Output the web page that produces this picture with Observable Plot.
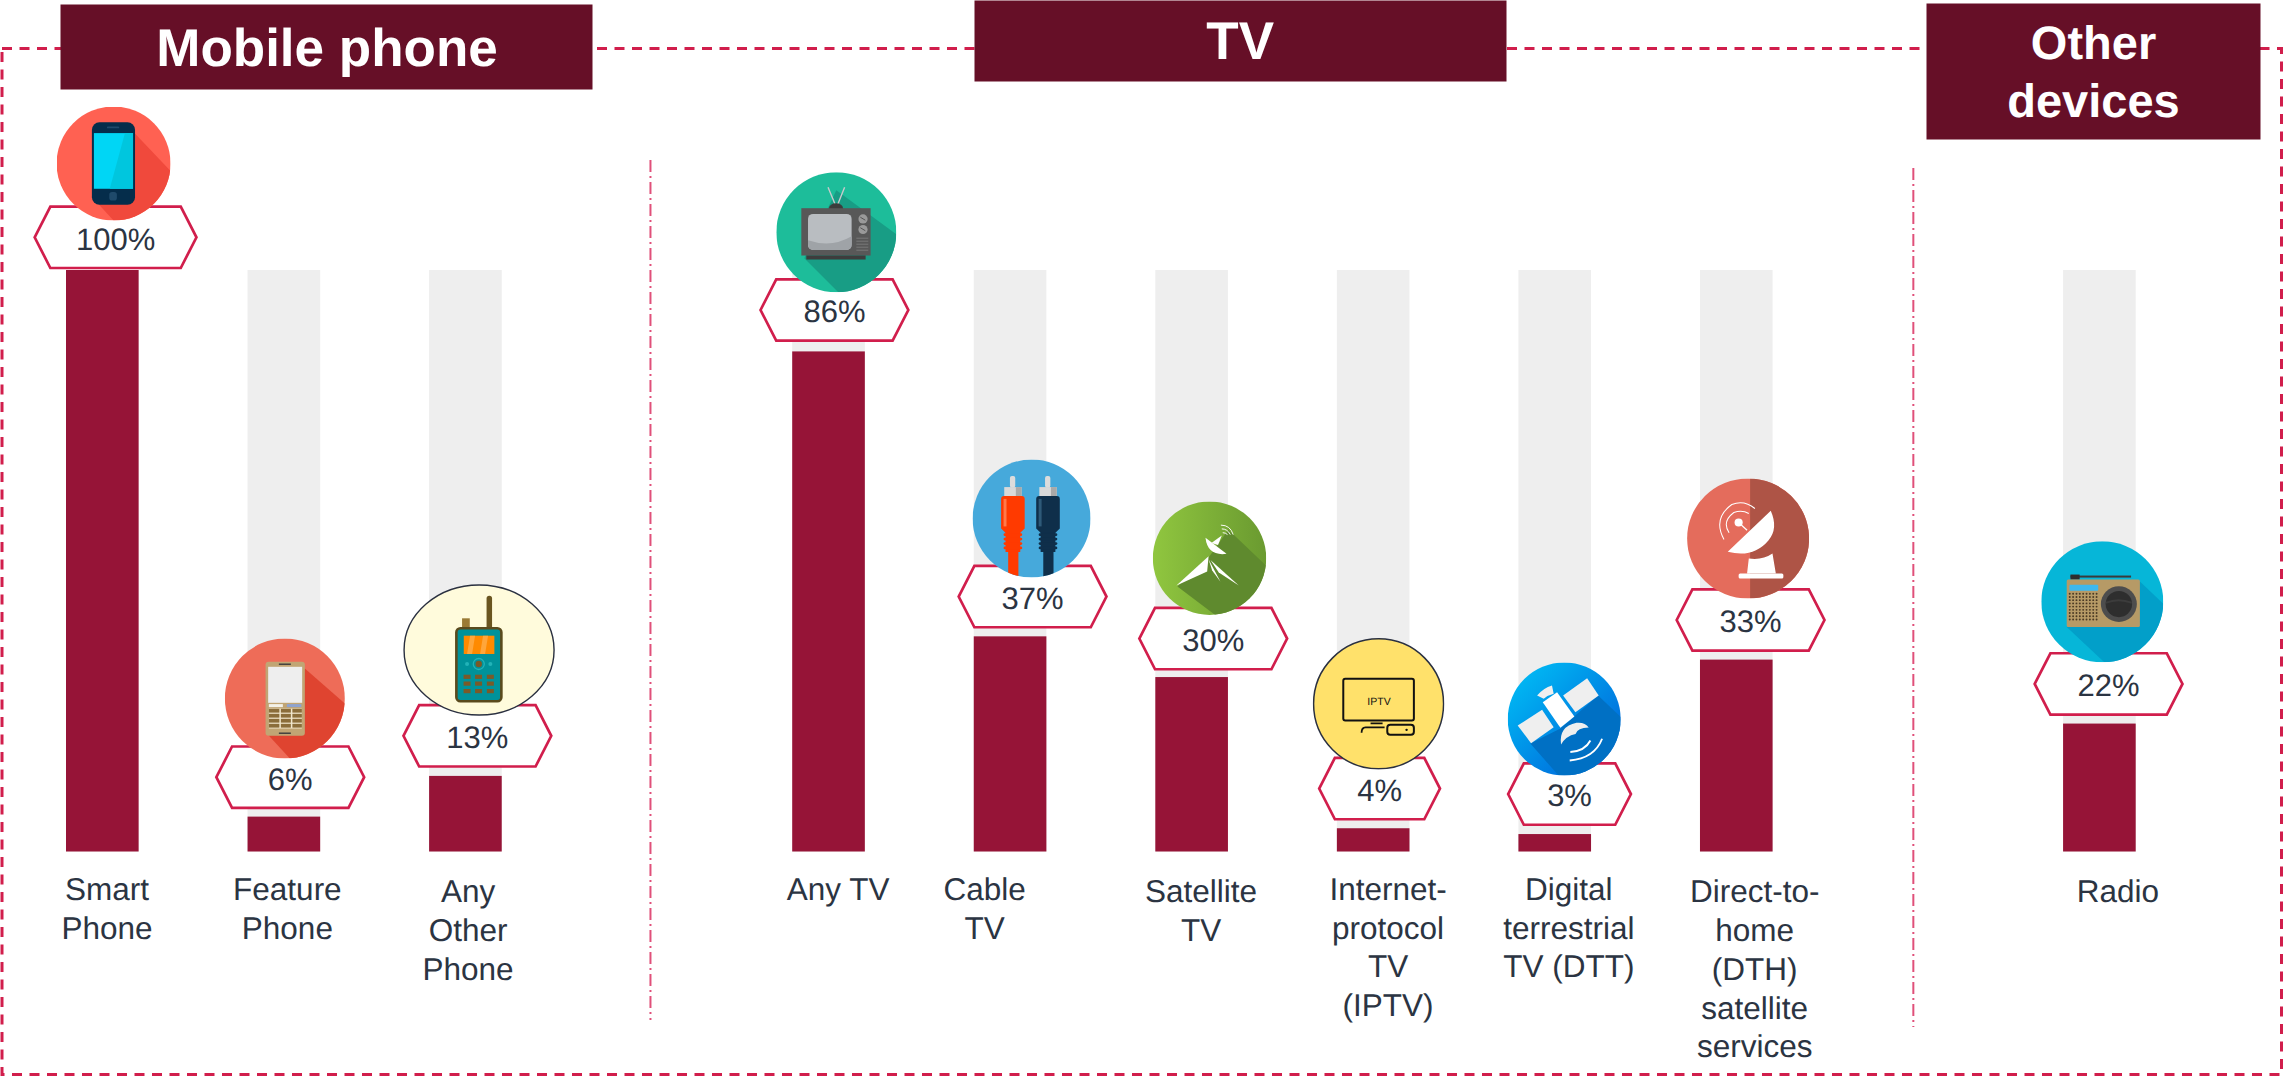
<!DOCTYPE html>
<html>
<head>
<meta charset="utf-8">
<script src="https://cdn.jsdelivr.net/npm/d3@7"></script>
<script src="https://cdn.jsdelivr.net/npm/@observablehq/plot@0.6"></script>
<style>
html,body{margin:0;padding:0;background:#fff}
svg{display:block}
</style>
</head>
<body>
<div id="chart"></div>
<script>
// ---- data ----
const categories = ["Smart Phone","Feature Phone","Any Other Phone","Any TV","Cable TV","Satellite TV",
  "Internet-protocol TV (IPTV)","Digital terrestrial TV (DTT)","Direct-to-home (DTH) satellite services","Radio"];
const values = [100,6,13,86,37,30,4,3,33,22];
const tickLabels = ["Smart\nPhone","Feature\nPhone","Any\nOther\nPhone","Any TV","Cable\nTV","Satellite\nTV",
  "Internet-\nprotocol\nTV\n(IPTV)","Digital\nterrestrial\nTV (DTT)","Direct-to-\nhome\n(DTH)\nsatellite\nservices","Radio"];
const slots = ["Smart Phone","Feature Phone","Any Other Phone","gap1","Any TV","Cable TV","Satellite TV",
  "Internet-protocol TV (IPTV)","Digital terrestrial TV (DTT)","Direct-to-home (DTH) satellite services","gap2","Radio"];

// ---- layout nudges, kept apart from the data ----
const iconNudge = [[10.75,-107],[0.5,-118.6],[13.15,-126.4],[7.3,-119.7],[21,-118.3],[17.4,-119.35],[4.9,-124.9],[9,-115.55],[11.3,-121.6],[2.4,-122.3]];
const iconSize  = [[114,114],[120,120],[152,132],[120,120],[118,118],[113.4,113.4],[132,132],[113,113],[122,120],[122,121]];
const hexNudge  = [[12.75,-33.2],[5.9,-39.9],[11.45,-40.6],[5.4,-41.9],[22,-40.3],[21.1,-39],[5.9,-40.2],[14.3,-40.5],[13.8,-40.1],[8.7,-40.1]];
const hexWidth  = [163,149,149,149,149,149,122,124,149,149];
const labelNudge= [[4.25,20.2],[3,20.2],[2.15,22.6],[9.1,20.2],[-26,20.2],[8.9,22.9],[14.4,20.2],[13.6,20.2],[17.9,22.6],[17.9,22.6]];

// ---- palette ----
const crimson="#d11e4c", barFill="#961437", headFill="#660f27", ink="#2b3442", font="Liberation Sans";

// ---- pictograms ----
function uri(vw,vh,body){
  return "data:image/svg+xml;charset=utf-8,"+encodeURIComponent(
    `<svg xmlns="http://www.w3.org/2000/svg" viewBox="0 0 ${vw} ${vh}" preserveAspectRatio="none">${body}</svg>`);
}
function disc(base,shadow,shadowPath,inner,defs=""){
  return uri(120,120,`<defs><clipPath id="c"><circle cx="60" cy="60" r="60"/></clipPath>${defs}</defs>
  <circle cx="60" cy="60" r="60" fill="${base}"/><g clip-path="url(#c)"><path d="${shadowPath}" fill="${shadow}"/></g>${inner}`);
}
function grid(xs,ys,f){let s="";for(const y of ys)for(const x of xs)s+=f(x,y);return s;}
function plug(ox,col,hi){
  return `<g transform="translate(${ox},0)">
   <rect x="36.2" y="90" width="10.4" height="32" fill="${col}"/>
   <rect x="38" y="16.7" width="5.4" height="12" rx="2" fill="#dcdcdc"/>
   <rect x="32.2" y="28" width="17.6" height="10" fill="#d9d9d9"/><rect x="44" y="28" width="5.8" height="10" fill="#a9a9a9"/>
   <path d="M29 40 q0 -3 3 -3 h18 q3 0 3 3 v30 l-5 5 h-14 l-5 -5z" fill="${col}"/>
   <rect x="31.5" y="40" width="3" height="28" fill="${hi}"/>
   <rect x="33.5" y="74" width="15" height="20" fill="${col}"/>
   ${grid([31.5],[75,79.5,84,88.5],(x,y)=>`<rect x="${x}" y="${y}" width="19" height="2.8" rx="1.4" fill="${col}"/>`)}
  </g>`;
}
const icons = [
  disc("#ff6152","#f0493c","M82 28 L120 68 V120 H60 L37 95 Z",
    `<rect x="37.2" y="16.5" width="45.4" height="87" rx="8" fill="#052d4b"/>
     <rect x="39.3" y="28" width="41.2" height="58.6" fill="#00d6f5"/>
     <path d="M80.5 28 V86.6 H56 L72 28Z" fill="#00c6de"/>
     <rect x="53" y="21" width="13" height="2" rx="1" fill="#1f4a6b"/>
     <rect x="55.5" y="90" width="8" height="9" rx="3" fill="#1f4a6b"/>`),
  disc("#ee6c58","#df4430","M80 30 L120 65 V120 H65 L42 95 Z",
    `<rect x="40.7" y="23.3" width="39.3" height="74" rx="3" fill="#c1a574"/>
     <rect x="43.3" y="28.3" width="34" height="36" fill="#eeeeee"/>
     <rect x="54" y="25" width="12" height="1.4" fill="#3a3a3a"/><rect x="54" y="94" width="12" height="1.4" fill="#3a3a3a"/>
     <rect x="44" y="65.6" width="14" height="3" fill="#f3f1e8"/><rect x="62" y="65.6" width="14.5" height="3" fill="#8ea3cf"/>
     <rect x="44" y="70" width="33" height="20" fill="#f0e6cc"/>
     ${grid([44,56,67.5],[70.3,75.3,80.3,85.3],(x,y)=>`<rect x="${x}" y="${y}" width="${x>60?9.5:x>50?10:10.5}" height="3.8" fill="#8b6d3a"/>`)}`),
  uri(152,132,`<ellipse cx="76" cy="66" rx="75" ry="65" fill="#fffbdc" stroke="#2a3040" stroke-width="1.4"/>
     <rect x="83.5" y="11.7" width="5.5" height="34" rx="2.7" fill="#6a5520"/>
     <rect x="59" y="34.3" width="7.7" height="10" fill="#9a7a35"/>
     <rect x="53.3" y="44.3" width="45" height="73" rx="4" fill="#00929a" stroke="#5a4a1d" stroke-width="2.6"/>
     <rect x="60.7" y="51.7" width="30.6" height="18.3" fill="#ff8a00"/>
     <path d="M67 51.7 h5 l-3 18.3 h-5z M80 51.7 h5 l-3 18.3 h-5z" fill="#ffa63a"/>
     <circle cx="75.7" cy="80" r="5.5" fill="none" stroke="#22b3b8" stroke-width="1.3"/><circle cx="75.7" cy="80" r="3.2" fill="#7a5a28"/>
     <circle cx="64" cy="80" r="2" fill="#22b3b8"/><circle cx="87.3" cy="80" r="2" fill="#22b3b8"/>
     ${grid([60.5,72,83.8],[90.7,97.5,105],(x,y)=>`<rect x="${x}" y="${y}" width="7" height="4.2" fill="#7a5a28"/>`)}`),
  disc("#1dbd9a","#189d85","M60 18 L120 62 V120 H62 L28 86 Z",
    `<path d="M51.7 15 L59.3 33.3 M68.3 15 L61 33.3" stroke="#c6c9cb" stroke-width="1.4"/>
     <ellipse cx="59.7" cy="36" rx="7" ry="5" fill="#3c3c3c"/>
     <rect x="25" y="36" width="69.3" height="47.3" fill="#585858"/>
     <rect x="30" y="83.3" width="59.3" height="4" fill="#3d3d3d"/>
     <rect x="31.7" y="41.7" width="43.6" height="36" rx="5" fill="#b9bdc1"/>
     <path d="M31.7 68 Q55 76 75.3 64 V72 Q75.3 77.7 70 77.7 H37 Q31.7 77.7 31.7 72Z" fill="#9fa3a7"/>
     <circle cx="86.7" cy="46.7" r="4.6" fill="#9a9a9a"/><circle cx="86.7" cy="57.3" r="4.6" fill="#9a9a9a"/>
     <path d="M84 45 l5 3 M84 55.5 l5 3" stroke="#555" stroke-width="1"/>
     <path d="M80 66 H92 M80 69 H92 M80 72 H92 M80 75 H92 M80 78 H92" stroke="#777" stroke-width="1"/>`),
  disc("#46a9db","#46a9db","M0 0",`<g clip-path="url(#c)">${plug(0,"#ff3a00","#ff7a4a")}${plug(35.7,"#0f2f4a","#2e5a78")}</g>`),
  disc("url(#g1)","#5f8a2e","M80 30 L120 68 V120 H66 L26 90 L60 58 Z",
    `<g fill="#fff"><path d="M25 89 L59 58 L57.5 74Z"/><path d="M61 62 L91 89 L69.8 75Z"/><path d="M59 61 L71.6 85 L62.8 73Z"/>
     <path d="M55.7 38.4 Q58 58 78 55.4Z"/><path d="M62 44 L73 36 L69 46Z"/></g>
     <path d="M72 25 Q82 25 85 35 M73 29 Q79 29 82 35 M74 33 Q77 33 79 35" fill="none" stroke="#fff" stroke-width="1"/>`,
    `<linearGradient id="g1" x1="0" x2="1" y1="0" y2="0"><stop offset="0" stop-color="#90c63f"/><stop offset="1" stop-color="#6a9a30"/></linearGradient>`),
  uri(132,132,`<circle cx="66" cy="66" r="65" fill="#ffe16b" stroke="#2a3040" stroke-width="1.5"/>
     <rect x="30.7" y="41" width="70.6" height="41.7" rx="2" fill="none" stroke="#111" stroke-width="2"/>
     <path d="M58 85.5 H70" stroke="#111" stroke-width="1.6"/>
     <path d="M49 95 Q49 89.5 53 89.5 H72" fill="none" stroke="#111" stroke-width="1.8"/>
     <rect x="74.7" y="87" width="26.6" height="10" rx="3" fill="none" stroke="#111" stroke-width="2"/>
     <circle cx="94" cy="92" r="1.2" fill="#111"/>`),
  disc("url(#g2)","#0070c4","M24 86 L54 120 H120 V58 L96 35 L56 70 Z",
    `<g fill="#efefef"><path d="M10.6 66.9 L36.5 50.3 L48.8 68.7 L24.8 85.7Z"/><path d="M58.8 35 L84.3 16.6 L96.6 35 L71.9 52.7Z"/>
     <path d="M31.2 35 Q38 27 47 24.4 L48.8 33.3 Q42 35 38.2 38.6Z"/></g>
     <path d="M37.2 42.1 L52.4 31.5 L70.8 57.3 L55.9 69.4Z" fill="#fff"/>
     <path d="M56.6 87 Q54 68 73 64 Q82 63 86 69 Q74 69 72 76 Q62 78 56.6 87Z" fill="#efefef"/>
     <path d="M66.5 95 Q82 94 87.8 82.8 M65.8 104 Q92 102 100.2 81" fill="none" stroke="#fff" stroke-width="2"/>`,
    `<linearGradient id="g2" x1="0" x2="1" y1="0" y2="1"><stop offset="0" stop-color="#00c4f7"/><stop offset="1" stop-color="#0058d6"/></linearGradient>`),
  disc("#e46c5c","#ae5446","M62 0 H120 V120 H62 Z",
    `<path d="M40 73.3 L82.3 32.3 Q90 50 80 62 Q65 80 40 73.3Z" fill="#fff"/>
     <path d="M60.7 80 Q74 82 84 75 L87.3 95 H59Z" fill="#fff"/>
     <rect x="50.7" y="95" width="44" height="5" rx="1.5" fill="#fff"/>
     <circle cx="50.7" cy="44" r="4" fill="#fff"/><path d="M50.7 44 L59 51.7" stroke="#fff" stroke-width="1.2"/>
     <path d="M36.3 61 Q25 40 44 26 Q56 21 66.7 30 M41.3 54.3 Q34 43 46 34 Q54 31 60.7 35" fill="none" stroke="#fff" stroke-width="1"/>`),
  disc("#06b6d8","#029fc9","M97 40 L120 62 V120 H62 L25 85 Z",
    `<rect x="28.7" y="34" width="59.6" height="2" fill="#3a3a3a"/><rect x="28.7" y="33" width="9" height="5" fill="#2d2d2d"/>
     <rect x="25" y="38" width="72" height="47" rx="1.5" fill="#b69a66"/>
     <rect x="27.7" y="43" width="28.3" height="6" rx="1" fill="#3db8ef"/>
     ${grid([28,31.3,34.6,37.9,41.2,44.5,47.8,51.1,54.4],[52,55.2,58.4,61.6,64.8,68,71.2,74.4,77.6],(x,y)=>`<circle cx="${x}" cy="${y}" r="0.95" fill="#4a3a24"/>`)}
     <circle cx="76.3" cy="62.3" r="17.7" fill="#4d4d4d"/><circle cx="76.3" cy="62.3" r="13" fill="#2e2e2e"/>
     <path d="M63.5 60 Q76 55 89 60 L89 62 Q76 57 63.5 62Z" fill="#3c3c3c"/>`)
];

// ---- table built from the lists above ----
const rows = categories.map((category,i)=>({category,value:values[i],label:tickLabels[i],src:icons[i],i}));

function hexSymbol(w,h=61.4,inset=15.7){
  return {draw(c){
    const a=w/2,b=h/2;
    c.moveTo(-a,0);c.lineTo(-a+inset,-b);c.lineTo(a-inset,-b);c.lineTo(a,0);c.lineTo(a-inset,b);c.lineTo(-a+inset,b);c.closePath();
  }};
}
const headerBand = (l,t,r,b)=>Plot.frame({fill:headFill,stroke:"none",insetLeft:l,insetTop:t,insetRight:2283-r,insetBottom:1076-b});
const headerText = (s,dx,dy,size,lh=1)=>Plot.text([s],{text:d=>d,frameAnchor:"top-left",textAnchor:"middle",lineAnchor:"top",dx,dy,
  fill:"#fff",fontSize:size,fontWeight:"bold",fontFamily:font,lineHeight:lh});

const chart = Plot.plot({
  width:2283,height:1076,margin:0,
  style:{background:"#fff",fontFamily:font,textRendering:"geometricPrecision"},
  x:{type:"band",domain:slots,range:[66,2135.7],paddingInner:0.6,paddingOuter:0,round:false,axis:null},
  y:{domain:[0,100],range:[851.5,270],axis:null},
  marks:[
    Plot.frame({stroke:crimson,strokeWidth:3,strokeDasharray:"10,7.5",insetTop:48,insetLeft:1.5,insetRight:2,insetBottom:2,fill:"none"}),
    Plot.ruleX(["gap1"],{x:d=>d,dx:3,insetTop:160,insetBottom:56,stroke:"#e0507a",strokeWidth:2,strokeDasharray:"12,4,2,4"}),
    Plot.ruleX(["gap2"],{x:d=>d,dx:-5,insetTop:168,insetBottom:49,stroke:"#e0507a",strokeWidth:2,strokeDasharray:"12,4,2,4"}),
    headerBand(60,4,592,89), headerBand(974,0,1506,81), headerBand(1926,3,2260,139),
    headerText("Mobile phone",326.5,27.5,53),
    headerText("TV",1239.7,20.6,53),
    headerText("Other\ndevices",2093,18,47,1.228),
    Plot.barY(rows,{x:"category",y:()=>100,fill:"#eeeeee"}),
    Plot.barY(rows,{x:"category",y:"value",fill:barFill}),
    ...rows.map((d,i)=>Plot.dot([d],{x:"category",y:"value",dx:hexNudge[i][0],dy:hexNudge[i][1],
      symbol:hexSymbol(hexWidth[i]-1.2),r:10,fill:"#fff",stroke:crimson,strokeWidth:2.7})),
    ...rows.map((d,i)=>Plot.image([d],{x:"category",y:"value",src:"src",dx:iconNudge[i][0],dy:iconNudge[i][1],
      width:iconSize[i][0],height:iconSize[i][1]})),
    Plot.text([rows[6]],{x:"category",y:"value",text:()=>"IPTV",dx:5.3,dy:-127.6,fontSize:10.5,fill:"#111",fontFamily:font}),
    ...rows.map((d,i)=>Plot.text([d],{x:"category",y:"value",text:d=>d.value+"%",dx:hexNudge[i][0],dy:hexNudge[i][1]+2.5,
      fontSize:31,fill:ink,fontFamily:font})),
    ...rows.map((d,i)=>Plot.text([d],{x:"category",y:()=>0,text:"label",dx:labelNudge[i][0],dy:labelNudge[i][1],
      lineAnchor:"top",lineHeight:1.232,fontSize:31.5,fill:ink,fontFamily:font}))
  ]
});
document.getElementById("chart").appendChild(chart);
</script>
</body>
</html>
